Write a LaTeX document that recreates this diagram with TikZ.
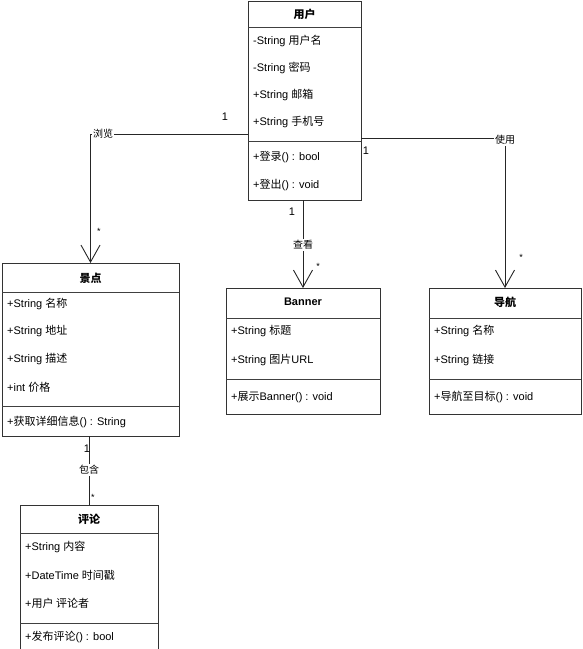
\documentclass[tikz,border=0pt]{standalone}
\usepackage{fontspec}
\setmainfont{Liberation Sans}
\newfontfamily\cjk{Noto Sans CJK SC}
\usetikzlibrary{arrows.meta}
\tikzset{
  classbox/.style={draw=black!80, line width=1pt, fill=white, inner sep=0pt, outer sep=0pt, anchor=north west},
  divider/.style={draw=black!75, line width=0.9pt},
  attr/.style={anchor=west, inner sep=0pt, font=\fontsize{11}{13}\selectfont},
  ctitle/.style={inner sep=0pt, font=\fontsize{11}{13}\selectfont\bfseries},
  assoc/.style={draw=black!85, line width=0.9pt, -{Straight Barb[length=17pt,width=19pt,line width=0.9pt]}},
  plainline/.style={draw=black!85, line width=0.9pt},
  lbl/.style={inner sep=1pt, fill=white, font=\fontsize{10}{12}\selectfont},
  mult/.style={inner sep=0pt, font=\fontsize{11}{13}\selectfont},
  star/.style={inner sep=0pt, font=\fontsize{9}{10}\selectfont}
}
\begin{document}
\begin{tikzpicture}[x=1pt,y=-1pt]
\useasboundingbox (0,0) rectangle (583,649);
% ---------- user ----------
\node[classbox, minimum width=113, minimum height=199] (user) at (248,1) {};
\draw[divider] (248,27) -- (361,27);
\draw[divider] (248,141) -- (361,141);
\node[ctitle] (userT) at (304.5,14) {\cjk\bfseries 用户};
\node[attr] (u1) at (253,41) {-String {\cjk 用户名}};
\node[attr] (u2) at (253,68) {-String {\cjk 密码}};
\node[attr] (u3) at (253,95) {+String {\cjk 邮箱}};
\node[attr] (u4) at (253,122) {+String {\cjk 手机号}};
\node[attr] (u5) at (253,157) {+{\cjk 登录}() : bool};
\node[attr] (u6) at (253,185) {+{\cjk 登出}() : void};
% ---------- spot ----------
\node[classbox, minimum width=177, minimum height=173] (spot) at (2,263) {};
\draw[divider] (2,292) -- (179,292);
\draw[divider] (2,406) -- (179,406);
\node[ctitle] (spotT) at (90.5,278) {\cjk\bfseries 景点};
\node[attr] (s1) at (7,304) {+String {\cjk 名称}};
\node[attr] (s2) at (7,331) {+String {\cjk 地址}};
\node[attr] (s3) at (7,359) {+String {\cjk 描述}};
\node[attr] (s4) at (7,387) {+int {\cjk 价格}};
\node[attr] (s5) at (7,422) {+{\cjk 获取详细信息}() : String};
% ---------- banner ----------
\node[classbox, minimum width=154, minimum height=126] (banner) at (226,288) {};
\draw[divider] (226,318) -- (380,318);
\draw[divider] (226,379) -- (380,379);
\node[ctitle] (bannerT) at (303,302) {Banner};
\node[attr] (b1) at (231,331) {+String {\cjk 标题}};
\node[attr] (b2) at (231,360) {+String {\cjk 图片}URL};
\node[attr] (b3) at (231,397) {+{\cjk 展示}Banner() : void};
% ---------- nav ----------
\node[classbox, minimum width=152, minimum height=126] (nav) at (429,288) {};
\draw[divider] (429,318) -- (581,318);
\draw[divider] (429,379) -- (581,379);
\node[ctitle] (navT) at (505,302) {\cjk\bfseries 导航};
\node[attr] (n1) at (434,331) {+String {\cjk 名称}};
\node[attr] (n2) at (434,360) {+String {\cjk 链接}};
\node[attr] (n3) at (434,397) {+{\cjk 导航至目标}() : void};
% ---------- comment ----------
\node[classbox, minimum width=138, minimum height=145] (comment) at (20,505) {};
\draw[divider] (20,533) -- (158,533);
\draw[divider] (20,623) -- (158,623);
\node[ctitle] (commentT) at (89,519) {\cjk\bfseries 评论};
\node[attr] (c1) at (25,547) {+String {\cjk 内容}};
\node[attr] (c2) at (25,575) {+DateTime {\cjk 时间戳}};
\node[attr] (c3) at (25,603) {+{\cjk 用户 评论者}};
\node[attr] (c4) at (25,637) {+{\cjk 发布评论}() : bool};
% ---------- connectors ----------
\coordinate (bend1) at (90,134);
\coordinate (bend2) at (505,138);
\draw[assoc] (user.west |- bend1) -| (spot.north);
\draw[assoc] (user.east |- bend2) -| (nav.north);
\draw[assoc] (banner.north |- user.south) -- (banner.north);
\draw[plainline] (comment.north |- spot.south) -- (comment.north);
% labels
\node[lbl] (l1) at (103,134) {\cjk 浏览};
\node[lbl] (l2) at (505,140) {\cjk 使用};
\node[lbl] (l3) at (303,245) {\cjk 查看};
\node[lbl] (l4) at (89,470) {\cjk 包含};
% multiplicities
\node[mult] (m1) at (225,117) {1};
\node[star] (m2) at (99,231) {*};
\node[mult] (m3) at (366,151) {1};
\node[star] (m4) at (521,257) {*};
\node[mult] (m5) at (292,212) {1};
\node[star] (m6) at (318,266) {*};
\node[mult] (m7) at (87,449) {1};
\node[star] (m8) at (93,497) {*};
\end{tikzpicture}
\end{document}
